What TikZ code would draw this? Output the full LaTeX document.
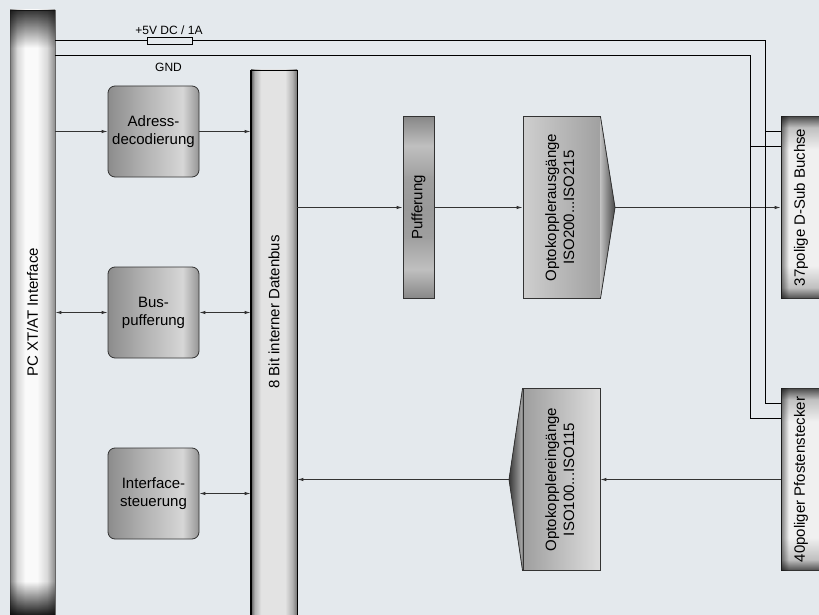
\documentclass[tikz,border=0pt]{standalone}
\usepackage{fontspec}
\setmainfont{Liberation Sans}
\usetikzlibrary{arrows.meta, fadings}

\definecolor{bgblue}{HTML}{E4E9ED}
\pgfdeclarehorizontalshading{rbshade}{100bp}{color(0bp)=(black!45); color(25bp)=(black!45);
  color(45bp)=(black!30); color(66bp)=(black!16); color(71bp)=(black!30); color(75bp)=(black!42); color(100bp)=(black!42)}
\pgfdeclarehorizontalshading{pcshade}{100bp}{color(0bp)=(black!50); color(25bp)=(black!50);
  color(33bp)=(black!15); color(42bp)=(black!2); color(55bp)=(black!2); color(66bp)=(black!15); color(75bp)=(black!45); color(100bp)=(black!45)}
\pgfdeclarehorizontalshading{busshade}{100bp}{color(0bp)=(black!65); color(25bp)=(black!65);
  color(29bp)=(black!30); color(36bp)=(black!11); color(62bp)=(black!11); color(70bp)=(black!30); color(75bp)=(black!55); color(100bp)=(black!55)}
\pgfdeclareverticalshading{pufshade}{100bp}{color(0bp)=(black!47); color(25bp)=(black!47);
  color(33bp)=(black!25); color(42bp)=(black!38); color(50bp)=(black!40); color(58bp)=(black!38); color(67bp)=(black!25); color(75bp)=(black!47); color(100bp)=(black!47)}
\pgfdeclareverticalshading{connshade}{100bp}{color(0bp)=(black!70); color(25bp)=(black!70);
  color(28bp)=(black!25); color(34bp)=(black!6); color(66bp)=(black!6); color(72bp)=(black!25); color(75bp)=(black!70); color(100bp)=(black!70)}

\begin{document}
\begin{tikzpicture}[x=1pt,y=-1pt,>={Latex[length=6pt,width=3.5pt]},line width=0.9pt,
    font=\fontsize{15}{18}\selectfont,
    base box/.style={inner sep=0pt,align=center,line width=0.8pt},
    round box/.style={base box,draw=black!80,rounded corners=7pt,shade,shading=rbshade,minimum width=91pt,minimum height=91pt},
    pc bar/.style={base box,draw=black!60,shade,shading=pcshade,minimum width=45pt,minimum height=605pt},
    bus bar/.style={base box,draw=black,shade,shading=busshade,minimum width=46pt,minimum height=545pt},
    puf box/.style={base box,draw=black!80,shade,shading=pufshade,minimum width=31pt,minimum height=182pt},
    opto box/.style={base box,draw=black!80,minimum width=77pt,minimum height=182pt},
    conn box/.style={base box,draw=black!80,shade,shading=connshade,minimum width=40pt,minimum height=182pt},
    fuse box/.style={base box,draw=black,fill=bgblue,minimum width=45pt,minimum height=7pt},
    small text/.style={inner sep=0pt,font=\fontsize{12}{14}\selectfont},
    signal/.style={draw=black!80},
    power/.style={draw=black,line width=1pt}]

\useasboundingbox[fill=bgblue] (0,0) rectangle (819,615);

% blocks
\node[pc bar]    (pc)        at (32.5,312.5)  {\rotatebox{90}{PC XT/AT Interface}};
\node[round box] (adress)    at (153.5,131.5) {Adress-\\decodierung};
\node[round box] (buspuf)    at (153.5,312.5) {Bus-\\pufferung};
\node[round box] (interface) at (153.5,493.5) {Interface-\\steuerung};
\node[bus bar]   (bus)       at (274,342.5)   {};
\node[rotate=90] (bustext)   at (274,312)     {8 Bit interner Datenbus};
\node[puf box]   (puf)       at (418.5,207.5) {\rotatebox{90}{Pufferung}};
\node[opto box,left color=black!19,right color=black!37] (optoout) at (561.5,207.5)
    {\rotatebox{90}{\begin{tabular}{@{}c@{}}Optokopplerausgänge\\ISO200...ISO215\end{tabular}}};
\node[opto box,left color=black!38,right color=black!13] (optoin) at (561.5,479.5)
    {\rotatebox{90}{\begin{tabular}{@{}c@{}}Optokopplereingänge\\ISO100...ISO115\end{tabular}}};
\node[conn box]  (dsub)      at (801,207.5)   {\rotatebox{90}{37polige D-Sub Buchse}};
\node[conn box]  (pfosten)   at (801,479.5)   {\rotatebox{90}{40poliger Pfostenstecker}};
\node[fuse box]  (fuse)      at (169.5,40.5)  {};
\node[small text] (vcclabel) at (169,30)      {+5V DC / 1A};
\node[small text] (gndlabel) at (168.5,67)    {GND};

% shading at the ends of the bars
\fill[black,path fading=south,fill opacity=.8] (pc.north west) rectangle ([yshift=-38pt]pc.north east);
\fill[black,path fading=north,fill opacity=.9] (pc.south west) rectangle ([yshift=34pt]pc.south east);
\draw[line width=2pt] (bus.north west) -- (bus.south west);
\fill[black,path fading=east,fill opacity=.5] (dsub.north west) rectangle ([xshift=8pt]dsub.south west);
\fill[black,path fading=east,fill opacity=.5] (pfosten.north west) rectangle ([xshift=8pt]pfosten.south west);

% tips of the optocoupler blocks
\coordinate (outtip) at (615,207.5);
\coordinate (intip)  at (509,479.5);
\fill[left color=black!25,right color=black!72] (optoout.north east) -- (outtip) -- (optoout.south east) -- cycle;
\draw[line width=0.8pt,black!80] (optoout.north east) -- (outtip) -- (optoout.south east);
\fill[left color=black!78,right color=black!32] (optoin.north west) -- (intip) -- (optoin.south west) -- cycle;
\draw[line width=0.8pt,black!80] (optoin.north west) -- (intip) -- (optoin.south west);

% signals
\draw[signal,->] (pc.east |- adress.west) -- (adress.west);
\draw[signal,->] (adress.east) -- (adress.east -| bus.west);
\draw[signal,<->] (pc.east |- buspuf.west) -- (buspuf.west);
\draw[signal,<->] (buspuf.east) -- (buspuf.east -| bus.west);
\draw[signal,<->] (interface.east) -- (interface.east -| bus.west);
\draw[signal,->] (bus.east |- puf.west) -- (puf.west);
\draw[signal,->] (puf.east) -- (optoout.west);
\draw[signal,->] (outtip) -- (outtip -| dsub.west);
\draw[signal,->] (pfosten.west) -- (optoin.east);
\draw[signal,->] (intip) -- (intip -| bus.east);

% power lines
\coordinate (vcc) at (765.5,40.5);
\coordinate (gnd) at (750.5,55.5);
\draw[power] (pc.east |- vcc) -- (fuse.west) (fuse.east) -- (vcc) |- ([yshift=-15pt]pfosten.north west);
\draw[power] ([yshift=-15pt]dsub.north west) -- +(-15.5,0);
\draw[power] (pc.east |- gnd) -- (gnd) |- ([yshift=-30pt]pfosten.north west);
\draw[power] ([yshift=-30pt]dsub.north west) -- +(-30.5,0);
\end{tikzpicture}
\end{document}
